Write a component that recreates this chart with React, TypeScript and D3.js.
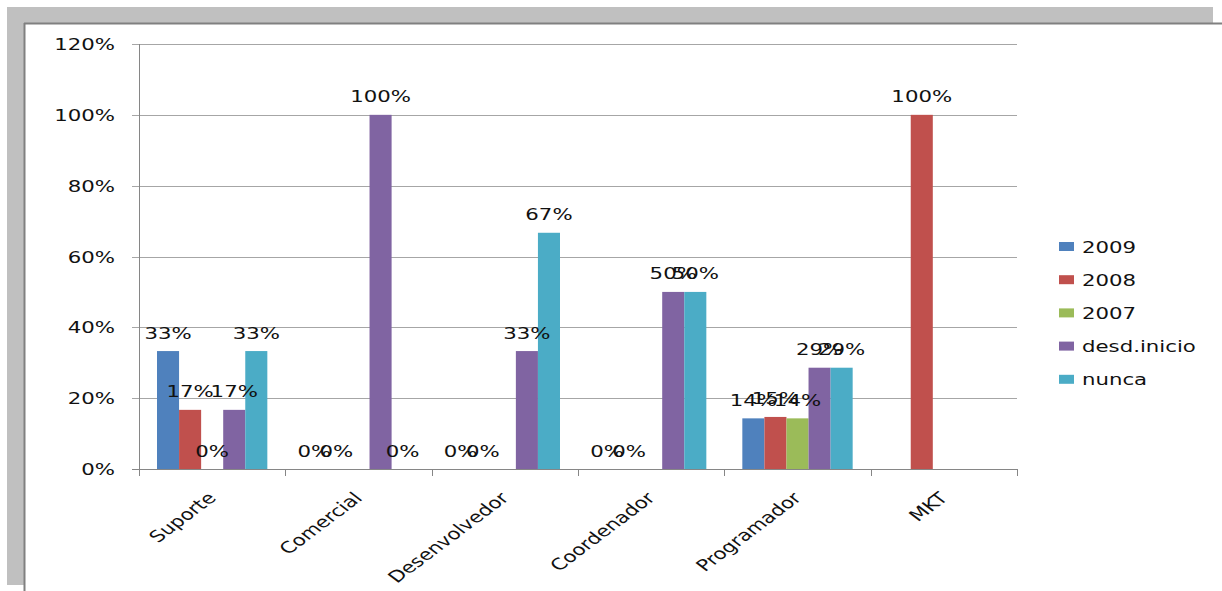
import React from "react";
import * as d3 from "d3";

const categories = ["Suporte", "Comercial", "Desenvolvedor", "Coordenador", "Programador", "MKT"];
const seriesNames = ["2009", "2008", "2007", "desd.inicio", "nunca"];
const seriesColors = ["#4F81BD", "#C0504D", "#9BBB59", "#8064A2", "#4BACC6"];

// null = no value in the sheet (no bar, no label)
const v2009 = [0.333, 0, 0, 0, 0.143, null];
const v2008 = [0.167, 0, 0, 0, 0.147, 1];
const v2007 = [0, null, null, null, 0.143, null];
const vDesd = [0.167, 1, 0.333, 0.5, 0.286, null];
const vNunca = [0.333, 0, 0.667, 0.5, 0.286, null];
const yTicks = [0, 0.2, 0.4, 0.6, 0.8, 1.0, 1.2];

const seriesValues = [v2009, v2008, v2007, vDesd, vNunca];

const W = 1222;
const H = 591;
const SX = 1.33; // the screenshot is stretched horizontally
const FONT = "DejaVu Sans";

export default function App() {
  const x0 = d3.scaleBand<string>().domain(categories).range([139, 1017]).padding(0);
  const x1 = d3
    .scaleBand<string>()
    .domain(seriesNames)
    .range([18, x0.bandwidth() - 18])
    .padding(0);
  const y = d3.scaleLinear().domain([0, 1.2]).range([469, 44]);
  const fmt = d3.format(".0%");

  const stretched = (tx: number, ty: number, rot = 0) =>
    `translate(${tx},${ty}) scale(${SX},1)${rot ? ` rotate(${rot})` : ""}`;

  const boundaries = categories.map((c) => x0(c)!).concat([x0.range()[1]]);

  return (
    <div style={{ position: "fixed", left: 0, top: 0, width: W, height: H, background: "#fff" }}>
      <svg width={W} height={H} style={{ display: "block" }}>
        {/* frame */}
        <rect x={7} y={7} width={1206} height={16} fill="#c0c0c0" />
        <rect x={7} y={7} width={17} height={578} fill="#c0c0c0" />
        <line x1={24} y1={23.5} x2={W} y2={23.5} stroke="#808080" strokeWidth={2} />
        <line x1={24.5} y1={23} x2={24.5} y2={H} stroke="#808080" strokeWidth={2} />

        {/* gridlines */}
        {yTicks.map((t) => (
          <line
            key={`g${t}`}
            x1={132}
            x2={1017}
            y1={Math.round(y(t)) + 0.5}
            y2={Math.round(y(t)) + 0.5}
            stroke={t === 0 ? "#868686" : "#a6a6a6"}
            strokeWidth={1}
          />
        ))}
        {/* y axis */}
        <line x1={139.5} x2={139.5} y1={44} y2={476} stroke="#868686" />
        {yTicks.map((t) => (
          <text
            key={`yt${t}`}
            transform={stretched(115, y(t) + 6)}
            textAnchor="end"
            fontFamily={FONT}
            fontSize={16}
            fill="#111"
          >
            {fmt(t)}
          </text>
        ))}
        {/* x ticks */}
        {boundaries.map((b, i) => (
          <line
            key={`xt${i}`}
            x1={Math.round(b) + 0.5}
            x2={Math.round(b) + 0.5}
            y1={469}
            y2={476}
            stroke="#868686"
          />
        ))}

        {/* bars */}
        {categories.map((c, ci) =>
          seriesNames.map((s, si) => {
            const v = seriesValues[si][ci];
            if (v === null) return null;
            const bx = x0(c)! + x1(s)!;
            return (
              <rect
                key={`b${ci}-${si}`}
                x={bx}
                y={y(v)}
                width={x1.bandwidth()}
                height={y(0) - y(v)}
                fill={seriesColors[si]}
              />
            );
          })
        )}
        {/* data labels */}
        {categories.map((c, ci) =>
          seriesNames.map((s, si) => {
            const v = seriesValues[si][ci];
            if (v === null) return null;
            const cx = x0(c)! + x1(s)! + x1.bandwidth() / 2;
            return (
              <text
                key={`l${ci}-${si}`}
                transform={stretched(cx, y(v) - 12.5)}
                textAnchor="middle"
                fontFamily={FONT}
                fontSize={16}
                fill="#111"
              >
                {fmt(v)}
              </text>
            );
          })
        )}

        {/* category labels */}
        {categories.map((c) => (
          <text
            key={`c${c}`}
            transform={stretched(x0(c)! + x0.bandwidth() / 2 + 5, 499, -45)}
            textAnchor="end"
            fontFamily={FONT}
            fontSize={16}
            fill="#111"
          >
            {c}
          </text>
        ))}

        {/* legend */}
        {seriesNames.map((s, i) => (
          <g key={`lg${s}`}>
            <rect x={1059} y={242 + i * 33.2} width={15} height={9} fill={seriesColors[i]} />
            <text
              transform={stretched(1082, 252.5 + i * 33.2)}
              fontFamily={FONT}
              fontSize={16}
              fill="#111"
            >
              {s}
            </text>
          </g>
        ))}
      </svg>
    </div>
  );
}
